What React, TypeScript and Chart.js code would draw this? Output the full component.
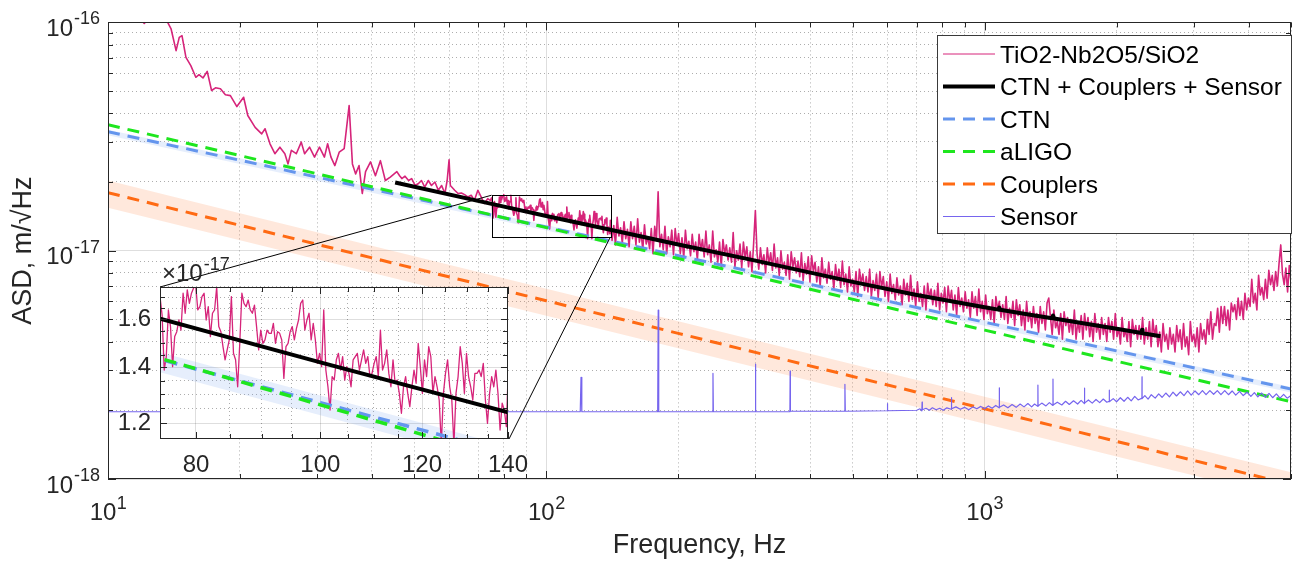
import React, { useEffect, useRef } from 'react';
import { Chart, registerables } from 'chart.js';

Chart.register(...registerables);

const FONT = '"Liberation Sans", Arial, Helvetica, sans-serif';
const INK = '#262626';
const GRID_MAJOR = 'rgba(0,0,0,0.13)';
const GRID_MINOR = 'rgba(0,0,0,0.32)';

// ---------------- data: frequency in Hz, amplitude in units of 1e-17 m/√Hz ----------------
// measured spectrum, low-frequency part (explicit frequency/value pairs)
const MEAS_LOW: [number, number][] = [
  [10, 16.0], [11, 13.5], [11.8, 10.4], [12.1, 9.9], [12.4, 10.5], [13.0, 11.6], [13.68, 10.0],
  [13.93, 9.36], [14.3, 7.52], [14.54, 8.6], [14.75, 8.75], [15.06, 7.03], [15.45, 6.47],
  [15.86, 5.75], [16.13, 5.9], [16.47, 5.71], [16.84, 6.1], [17.23, 5.03], [17.59, 5.17],
  [18.05, 5.12], [18.53, 4.82], [19.02, 4.78], [19.68, 4.28], [20.39, 4.7], [20.84, 3.91],
  [21.66, 3.47], [22.42, 3.25], [22.82, 3.42], [23.42, 2.94], [24.03, 2.66], [24.67, 2.84],
  [25.32, 2.66], [25.75, 2.4], [26.2, 2.75], [26.89, 2.66], [27.6, 2.99], [28.09, 2.66],
  [28.83, 2.84], [29.59, 2.57], [30.37, 2.84], [31.17, 2.57], [31.7, 2.94], [32.26, 2.57],
  [32.93, 2.36], [33.69, 2.7], [34.58, 2.8], [35.49, 4.32], [36.11, 2.4], [36.73, 2.17],
  [37.39, 2.36], [38.03, 1.78], [38.69, 2.22], [39.71, 2.45], [40.75, 2.13], [41.83, 2.48],
  [42.93, 2.03], [44.06, 2.1], [45.6, 2.22], [46.27, 2.13], [46.82, 2.07], [47.6, 2.12],
  [48.5, 2.03], [49.3, 2.07], [50.2, 1.93], [51.1, 1.97], [51.9, 2.03], [52.8, 1.9],
  [53.8, 2.03], [54.7, 1.93], [55.7, 2.0], [56.7, 1.84], [57.7, 1.93], [58.7, 1.78],
  [59.4, 2.03], [60.0, 2.5], [60.4, 1.93], [61.8, 1.84], [62.9, 1.78], [64.0, 1.79],
  [65.1, 1.76], [66.2, 1.72], [67.4, 1.75], [68.5, 1.66], [69.8, 1.84], [71.0, 1.72],
  [72.2, 1.61], [73.5, 1.69], [74.5, 1.66],
];

// measured spectrum 75–139.6 Hz, values on a log-spaced frequency grid
const MEAS_MID_BAND = [75, 139.6];
const MEAS_MID = [
  1.704, 1.619, 1.39, 1.443, 1.642, 1.568, 1.403, 1.525, 1.546, 1.597,
  1.553, 1.72, 1.627, 1.736, 1.672, 1.72, 1.745, 1.76, 1.642, 1.657,
  1.704, 1.72, 1.597, 1.657, 1.525, 1.627, 1.642, 1.75, 1.568, 1.546,
  1.483, 1.43, 1.47, 1.511, 1.704, 1.456, 1.43, 1.327, 1.497, 1.72,
  1.672, 1.657, 1.688, 1.642, 1.627, 1.664, 1.568, 1.47, 1.553, 1.497,
  1.511, 1.553, 1.539, 1.539, 1.582, 1.497, 1.546, 1.539, 1.511, 1.358,
  1.483, 1.497, 1.546, 1.568, 1.511, 1.56, 1.597, 1.672, 1.688, 1.553,
  1.597, 1.627, 1.511, 1.582, 1.511, 1.416, 1.456, 1.403, 1.642, 1.39,
  1.327, 1.244, 1.365, 1.352, 1.43, 1.456, 1.39, 1.443, 1.352, 1.403,
  1.377, 1.327, 1.43, 1.443, 1.456, 1.39, 1.43, 1.47, 1.416, 1.443,
  1.365, 1.377, 1.416, 1.443, 1.365, 1.553, 1.39, 1.416, 1.47, 1.377,
  1.327, 1.43, 1.34, 1.352, 1.303, 1.233, 1.327, 1.365, 1.303, 1.256,
  1.327, 1.39, 1.34, 1.497, 1.403, 1.303, 1.43, 1.365, 1.483, 1.443,
  1.303, 1.365, 1.327, 1.279, 1.13, 1.303, 1.377, 1.43, 1.327, 1.279,
  1.13, 1.303, 1.365, 1.483, 1.416, 1.303, 1.456, 1.365, 1.327, 1.279,
  1.377, 1.377, 1.39, 1.365, 1.416, 1.279, 1.199, 1.303, 1.365, 1.327,
  1.39, 1.303, 1.177, 1.268, 1.244, 1.188,
];

// measured spectrum 140–5000 Hz, values on a log-spaced frequency grid
const MEAS_HIGH_BAND = [140, 5000];
const MEAS_HIGH = [
  1.36, 1.11, 1.29, 1.06, 1.4, 1.16, 1.26, 1.08, 1.34, 1.13,
  1.24, 1.04, 1.34, 1.13, 1.28, 1.06, 1.38, 1.09, 1.2, 1.01,
  1.3, 1.07, 1.15, 1.02, 1.25, 0.97, 1.28, 1.11, 1.81, 1.04,
  1.18, 1.01, 1.28, 0.97, 1.15, 1.04, 1.23, 0.96, 1.25, 1.06,
  1.19, 0.97, 1.14, 0.93, 1.23, 1.02, 1.1, 0.95, 1.18, 0.99,
  1.09, 0.91, 1.18, 1.0, 1.12, 0.94, 1.22, 0.96, 1.06, 0.89,
  1.22, 0.94, 1.01, 0.89, 1.09, 0.85, 1.12, 0.97, 1.06, 0.91,
  1.03, 0.89, 1.2, 0.85, 1.0, 0.91, 1.07, 0.84, 1.09, 0.93,
  1.04, 0.85, 0.99, 0.81, 1.08, 1.5, 0.97, 0.83, 1.03, 0.87,
  0.96, 0.8, 1.03, 0.87, 0.98, 0.82, 1.07, 0.84, 0.93, 0.78,
  1.0, 0.83, 0.89, 0.78, 0.96, 0.75, 0.99, 0.85, 0.93, 0.8,
  0.9, 0.77, 0.98, 0.74, 0.88, 0.79, 0.94, 0.73, 0.95, 0.81,
  0.89, 0.73, 0.85, 0.7, 0.93, 0.76, 0.83, 0.72, 0.89, 0.75,
  0.81, 0.68, 0.87, 0.74, 0.83, 0.69, 0.9, 0.71, 0.79, 0.66,
  0.85, 0.7, 0.75, 0.66, 0.81, 0.63, 0.83, 0.72, 0.79, 0.67,
  0.77, 0.66, 0.83, 0.63, 0.74, 0.67, 0.79, 0.62, 0.81, 0.69,
  0.77, 0.63, 0.73, 0.6, 0.79, 0.65, 0.71, 0.61, 0.76, 0.64,
  0.7, 0.58, 0.75, 0.64, 0.72, 0.6, 0.78, 0.61, 0.68, 0.57,
  0.73, 0.6, 0.65, 0.57, 0.7, 0.55, 0.72, 0.62, 0.68, 0.58,
  0.67, 0.57, 0.72, 0.55, 0.65, 0.59, 0.69, 0.54, 0.7, 0.6,
  0.67, 0.55, 0.64, 0.52, 0.69, 0.57, 0.62, 0.54, 0.66, 0.56,
  0.61, 0.51, 0.66, 0.56, 0.63, 0.52, 0.68, 0.54, 0.6, 0.5,
  0.64, 0.53, 0.57, 0.5, 0.61, 0.48, 0.63, 0.55, 0.6, 0.51,
  0.58, 0.5, 0.63, 0.48, 0.56, 0.51, 0.6, 0.47, 0.61, 0.52,
  0.58, 0.47, 0.55, 0.45, 0.6, 0.49, 0.54, 0.46, 0.57, 0.48,
  0.53, 0.44, 0.57, 0.48, 0.54, 0.45, 0.59, 0.62, 0.51, 0.43,
  0.55, 0.46, 0.49, 0.43, 0.53, 0.41, 0.54, 0.47, 0.51, 0.44,
  0.5, 0.43, 0.55, 0.41, 0.49, 0.44, 0.52, 0.41, 0.53, 0.45,
  0.51, 0.42, 0.49, 0.4, 0.53, 0.44, 0.48, 0.41, 0.51, 0.43,
  0.48, 0.4, 0.51, 0.44, 0.49, 0.41, 0.53, 0.42, 0.46, 0.39,
  0.51, 0.42, 0.45, 0.4, 0.49, 0.38, 0.5, 0.43, 0.47, 0.41,
  0.47, 0.41, 0.51, 0.39, 0.46, 0.41, 0.49, 0.38, 0.5, 0.42,
  0.47, 0.38, 0.44, 0.36, 0.48, 0.4, 0.43, 0.37, 0.46, 0.39,
  0.43, 0.36, 0.47, 0.4, 0.45, 0.37, 0.48, 0.38, 0.42, 0.35,
  0.49, 0.4, 0.43, 0.38, 0.46, 0.36, 0.48, 0.41, 0.45, 0.39,
  0.5, 0.43, 0.54, 0.41, 0.48, 0.47, 0.56, 0.44, 0.57, 0.48,
  0.57, 0.47, 0.55, 0.45, 0.59, 0.54, 0.58, 0.5, 0.62, 0.52,
  0.6, 0.5, 0.65, 0.55, 0.62, 0.57, 0.75, 0.59, 0.65, 0.55,
  0.78, 0.64, 0.69, 0.61, 0.75, 0.62, 0.82, 0.71, 0.78, 0.67,
  0.81, 0.7, 0.88, 1.06, 0.79, 0.71, 0.84, 0.66, 0.86, 0.73,
];

// model curves
const MODEL_F = [10, 20, 50, 100, 200, 500, 1000, 2000, 5000];
const CTN = [3.32, 2.49, 1.695, 1.27, 0.951, 0.649, 0.486, 0.364, 0.248];
const CTN_UPPER = [3.39, 2.54, 1.729, 1.295, 0.97, 0.662, 0.496, 0.371, 0.253];
const CTN_LOWER = [3.2, 2.4, 1.636, 1.226, 0.918, 0.626, 0.469, 0.351, 0.239];
const ALIGO = [3.56, 2.61, 1.723, 1.262, 0.924, 0.613, 0.449, 0.328, 0.218];
const COUPLERS = [1.795, 1.292, 0.837, 0.6035, 0.4345, 0.2814, 0.2029, 0.1461, 0.0946];
const COUPLERS_UPPER = [2.028, 1.46, 0.946, 0.682, 0.491, 0.318, 0.229, 0.165, 0.107];
const COUPLERS_LOWER = [1.544, 1.111, 0.72, 0.519, 0.374, 0.242, 0.1745, 0.1256, 0.0814];

const TOTAL: [number, number][] = [
  [45.2, 1.99], [75, 1.603], [100, 1.42], [140, 1.236], [200, 1.065], [300, 0.905],
  [500, 0.73], [700, 0.64], [1000, 0.565], [1075, 0.552], [1080, 0.563], [1085, 0.551],
  [1300, 0.52], [1425, 0.506], [1432, 0.52], [1440, 0.505], [2000, 0.455], [2280, 0.436],
  [2286, 0.45], [2292, 0.435], [2520, 0.422],
];

const SENSOR: [number, number][] = [
  [10, 0.197], [60, 0.197], [119.5, 0.197], [120, 0.279], [120.5, 0.197], [179.5, 0.197],
  [180, 0.549], [180.5, 0.197], [239.5, 0.197], [240, 0.29], [240.5, 0.197], [299.5, 0.197],
  [300, 0.319], [300.5, 0.197], [359.5, 0.197], [360, 0.297], [360.5, 0.198], [479, 0.198],
  [480, 0.26], [481, 0.198], [599, 0.199], [600, 0.214], [601, 0.199], [700, 0.2],
  [712, 0.203], [719, 0.199], [720, 0.217], [721, 0.201], [735, 0.204], [748, 0.2],
  [760, 0.205], [775, 0.201], [790, 0.204], [805, 0.2], [820, 0.205], [839, 0.202],
  [840, 0.227], [841, 0.203], [860, 0.207], [880, 0.202], [900, 0.206], [920, 0.201],
  [940, 0.207], [960, 0.203], [980, 0.208], [1000, 0.203], [1020, 0.209], [1040, 0.204],
  [1060, 0.21], [1079, 0.205], [1080, 0.251], [1081, 0.206], [1105, 0.211], [1130, 0.205],
  [1155, 0.212], [1180, 0.206], [1205, 0.213], [1230, 0.207], [1255, 0.214], [1280, 0.207],
  [1300, 0.213], [1322, 0.208], [1323, 0.258], [1324, 0.209], [1350, 0.215], [1380, 0.209],
  [1405, 0.216], [1431, 0.21], [1432, 0.274], [1433, 0.211], [1465, 0.217], [1500, 0.211],
  [1530, 0.219], [1560, 0.212], [1595, 0.22], [1630, 0.213], [1660, 0.221], [1689, 0.214],
  [1690, 0.25], [1691, 0.215], [1725, 0.222], [1760, 0.215], [1795, 0.223], [1830, 0.216],
  [1865, 0.224], [1900, 0.217], [1924, 0.219], [1925, 0.245], [1926, 0.218], [1965, 0.225],
  [2000, 0.218], [2040, 0.227], [2080, 0.219], [2120, 0.228], [2160, 0.22], [2200, 0.23],
  [2240, 0.222], [2285, 0.226], [2286, 0.28], [2287, 0.225], [2320, 0.232], [2360, 0.224],
  [2400, 0.234], [2450, 0.226], [2495, 0.236], [2540, 0.228], [2590, 0.238], [2640, 0.229],
  [2690, 0.24], [2740, 0.231], [2795, 0.241], [2850, 0.232], [2905, 0.243], [2960, 0.233],
  [3020, 0.243], [3080, 0.234], [3140, 0.244], [3200, 0.234], [3265, 0.244], [3330, 0.235],
  [3395, 0.244], [3460, 0.234], [3530, 0.244], [3600, 0.234], [3670, 0.243], [3740, 0.233],
  [3815, 0.242], [3890, 0.232], [3970, 0.24], [4050, 0.23], [4125, 0.239], [4200, 0.229],
  [4285, 0.238], [4370, 0.228], [4455, 0.237], [4540, 0.227], [4630, 0.236], [4720, 0.226],
  [4810, 0.235], [4900, 0.226], [5000, 0.232],
];

// axes / ticks
const X_TICKS = [10, 20, 30, 40, 50, 60, 70, 80, 90, 100, 200, 300, 400, 500, 600, 700, 800, 900, 1000, 2000, 3000, 4000, 5000];
const X_TICK_EXP: [number, string][] = [[10, '1'], [100, '2'], [1000, '3']];
const Y_TICKS = [0.1, 0.2, 0.3, 0.4, 0.5, 0.6, 0.7, 0.8, 0.9, 1, 2, 3, 4, 5, 6, 7, 8, 9, 10];
const Y_TICK_EXP: [number, string][] = [[0.1, '-18'], [1, '-17'], [10, '-16']];
const TICK_BASE = '10';
const INSET_X_TICKS = [80, 85, 90, 95, 100, 105, 110, 115, 120, 125, 130, 135, 140];
const INSET_X_LABELS = [80, 100, 120, 140];
const INSET_Y_TICKS = [1.2, 1.25, 1.3, 1.35, 1.4, 1.45, 1.5, 1.55, 1.6, 1.65, 1.7];
const INSET_Y_LABELS = [1.2, 1.4, 1.6];
const ZOOM_F = [75, 140];
const ZOOM_A = [1.148, 1.75];
const INSET_SCALE_TEXT = ['×10', '-17'];

// ---------------- layout ----------------
const W = 1309;
const H = 562;
const MAIN_AREA = { left: 108, top: 22, right: 1305, bottom: 479 };
const INSET_BOX = { left: 100, top: 240, width: 440, height: 245 };
const INSET_AREA = { left: 160, top: 287, right: 509, bottom: 439 };
const LEGEND_BOX = { left: 937, top: 35, right: 1291, bottom: 233 };

// ---------------- helpers ----------------
const xy = (xs: number[], ys: number[]) => xs.map((x, i) => ({ x, y: ys[i] }));
const fromPairs = (p: [number, number][]) => p.map(([x, y]) => ({ x, y }));
function logGrid(range: number[], n: number) {
  const [a, b] = range;
  return Array.from({ length: n }, (_, i) => a * Math.pow(b / a, i / (n - 1)));
}
const MEASURED = [
  ...fromPairs(MEAS_LOW),
  ...xy(logGrid(MEAS_MID_BAND, MEAS_MID.length), MEAS_MID),
  ...xy(logGrid(MEAS_HIGH_BAND, MEAS_HIGH.length), MEAS_HIGH),
];

const DASH = [12, 8];
const STYLE: Record<string, any> = {
  measured: { label: 'TiO2-Nb2O5/SiO2', borderColor: '#d6247a', borderWidth: 1.6 },
  total: { label: 'CTN + Couplers + Sensor', borderColor: '#000000', borderWidth: 4 },
  ctn: { label: 'CTN', borderColor: '#6495ed', borderWidth: 3, borderDash: DASH },
  aligo: { label: 'aLIGO', borderColor: '#1ee61e', borderWidth: 3, borderDash: DASH },
  couplers: { label: 'Couplers', borderColor: '#ff6a13', borderWidth: 3, borderDash: DASH },
  sensor: { label: 'Sensor', borderColor: '#7665ee', borderWidth: 1.2 },
};

function line(data: any[], style: any, order: number, extra: any = {}) {
  return {
    data, ...style, order, pointRadius: 0, pointHoverRadius: 0, tension: 0, fill: false,
    clip: 0, borderCapStyle: 'butt', borderJoinStyle: 'round', ...extra,
  };
}
function bandPair(upper: any[], lower: any[], color: string) {
  return [
    { data: upper, borderWidth: 0, borderColor: 'rgba(0,0,0,0)', backgroundColor: color, fill: '+1', pointRadius: 0, order: 20, clip: 0 },
    { data: lower, borderWidth: 0, borderColor: 'rgba(0,0,0,0)', fill: false, pointRadius: 0, order: 20, clip: 0 },
  ];
}

function framePlugin(xTicks: number[], yTicks: number[], xMajor: (v: number) => boolean, yMajor: (v: number) => boolean, majLen: number, minLen: number) {
  return {
    id: 'frame',
    afterDatasetsDraw(chart: any) {
      const { ctx, chartArea, scales } = chart;
      const { left, right, top, bottom } = chartArea;
      ctx.save();
      ctx.strokeStyle = INK;
      ctx.lineWidth = 1;
      ctx.setLineDash([]);
      ctx.beginPath();
      for (const v of xTicks) {
        const p = Math.round(scales.x.getPixelForValue(v)) + 0.5;
        const l = xMajor(v) ? majLen : minLen;
        ctx.moveTo(p, bottom); ctx.lineTo(p, bottom - l);
        ctx.moveTo(p, top); ctx.lineTo(p, top + l);
      }
      for (const v of yTicks) {
        const p = Math.round(scales.y.getPixelForValue(v)) + 0.5;
        const l = yMajor(v) ? majLen : minLen;
        ctx.moveTo(left, p); ctx.lineTo(left + l, p);
        ctx.moveTo(right, p); ctx.lineTo(right - l, p);
      }
      ctx.stroke();
      ctx.strokeRect(Math.round(left) + 0.5, Math.round(top) + 0.5, Math.round(right - left) - 1, Math.round(bottom - top) - 1);
      ctx.restore();
    },
  };
}

const xExpMap = new Map(X_TICK_EXP);
const yExpMap = new Map(Y_TICK_EXP);
const isMajX = (v: number) => xExpMap.has(v);
const isMajY = (v: number) => yExpMap.has(v);
const isInsetMajX = (v: number) => INSET_X_LABELS.includes(v);
const isInsetMajY = (v: number) => INSET_Y_LABELS.includes(v);

function gridOpts(isMajor: (v: number) => boolean) {
  return {
    grid: {
      drawTicks: false,
      lineWidth: 1,
      color: (c: any) => (c.tick && isMajor(c.tick.value) ? GRID_MAJOR : GRID_MINOR),
    },
    border: {
      display: false,
      dash: (c: any) => (c.tick && isMajor(c.tick.value) ? [] : [1, 3]),
    },
  };
}

// power-of-ten tick labels, drawn as "10" with a raised exponent
const powerLabelPlugin = {
  id: 'powerLabels',
  afterDraw(chart: any) {
    const { ctx, scales, chartArea } = chart;
    const base = `24px ${FONT}`;
    const sup = `18px ${FONT}`;
    ctx.save();
    ctx.fillStyle = INK;
    ctx.textBaseline = 'alphabetic';
    ctx.textAlign = 'left';
    for (const [v, e] of X_TICK_EXP) {
      const px = scales.x.getPixelForValue(v);
      ctx.font = base;
      const w1 = ctx.measureText(TICK_BASE).width;
      ctx.font = sup;
      const w2 = ctx.measureText(e).width;
      const x0 = px - (w1 + w2) / 2;
      ctx.font = base;
      ctx.fillText(TICK_BASE, x0, chartArea.bottom + 41);
      ctx.font = sup;
      ctx.fillText(e, x0 + w1 + 0.5, chartArea.bottom + 30);
    }
    for (const [v, e] of Y_TICK_EXP) {
      const py = scales.y.getPixelForValue(v);
      ctx.font = sup;
      const w2 = ctx.measureText(e).width;
      ctx.font = base;
      const w1 = ctx.measureText(TICK_BASE).width;
      const xr = chartArea.left - 8;
      ctx.fillText(TICK_BASE, xr - w2 - 1 - w1, py + 13.5);
      ctx.font = sup;
      ctx.fillText(e, xr - w2, py + 2);
    }
    ctx.restore();
  },
};

const zoomPlugin = {
  id: 'zoomBox',
  afterDatasetsDraw(chart: any) {
    const { ctx, scales } = chart;
    const x0 = scales.x.getPixelForValue(ZOOM_F[0]);
    const x1 = scales.x.getPixelForValue(ZOOM_F[1]);
    const y0 = scales.y.getPixelForValue(ZOOM_A[1]);
    const y1 = scales.y.getPixelForValue(ZOOM_A[0]);
    ctx.save();
    ctx.strokeStyle = '#000';
    ctx.lineWidth = 1;
    ctx.setLineDash([]);
    ctx.strokeRect(Math.round(x0) + 0.5, Math.round(y0) + 0.5, Math.round(x1 - x0), Math.round(y1 - y0));
    ctx.beginPath();
    ctx.moveTo(INSET_AREA.left, INSET_AREA.top);
    ctx.lineTo(x0, y0);
    ctx.moveTo(INSET_AREA.right, INSET_AREA.bottom);
    ctx.lineTo(x1, y1);
    ctx.stroke();
    ctx.restore();
  },
};

const legendPlugin = {
  id: 'boxLegend',
  afterDraw(chart: any) {
    const { ctx } = chart;
    const items = chart.data.datasets.filter((d: any) => d.label);
    const b = LEGEND_BOX;
    ctx.save();
    ctx.fillStyle = '#ffffff';
    ctx.fillRect(b.left, b.top, b.right - b.left, b.bottom - b.top);
    ctx.strokeStyle = '#3a3a3a';
    ctx.lineWidth = 1;
    ctx.setLineDash([]);
    ctx.strokeRect(b.left + 0.5, b.top + 0.5, b.right - b.left, b.bottom - b.top);
    items.forEach((d: any, i: number) => {
      const yLine = b.top + 19 + i * 32.5;
      ctx.beginPath();
      ctx.setLineDash(d.borderDash || []);
      ctx.strokeStyle = d.borderColor;
      ctx.lineWidth = Math.max(1, d.borderWidth === 1.6 ? 1 : d.borderWidth);
      ctx.lineCap = 'butt';
      ctx.moveTo(b.left + 6, yLine);
      ctx.lineTo(b.left + 58, yLine);
      ctx.stroke();
      ctx.setLineDash([]);
      ctx.fillStyle = '#000000';
      ctx.font = `24.5px ${FONT}`;
      ctx.textAlign = 'left';
      ctx.textBaseline = 'middle';
      ctx.fillText(d.label, b.left + 63, yLine + 2);
    });
    ctx.restore();
  },
};

const whiteAreaPlugin = {
  id: 'whiteArea',
  beforeDraw(chart: any) {
    const { ctx, chartArea } = chart;
    ctx.save();
    ctx.fillStyle = '#ffffff';
    ctx.fillRect(chartArea.left, chartArea.top, chartArea.right - chartArea.left, chartArea.bottom - chartArea.top);
    ctx.restore();
  },
};

const insetScalePlugin = {
  id: 'insetScale',
  afterDraw(chart: any) {
    const { ctx, chartArea } = chart;
    ctx.save();
    ctx.fillStyle = INK;
    ctx.textAlign = 'left';
    ctx.textBaseline = 'alphabetic';
    ctx.font = `24px ${FONT}`;
    const x = chartArea.left + 2;
    const y = chartArea.top - 6;
    ctx.fillText(INSET_SCALE_TEXT[0], x, y);
    const w = ctx.measureText(INSET_SCALE_TEXT[0]).width;
    ctx.font = `18px ${FONT}`;
    ctx.fillText(INSET_SCALE_TEXT[1], x + w + 1, y - 11);
    ctx.restore();
  },
};

const tickFont = { family: FONT, size: 24 };

function mainConfig(): any {
  return {
    type: 'line',
    data: {
      datasets: [
        ...bandPair(xy(MODEL_F, CTN_UPPER), xy(MODEL_F, CTN_LOWER), 'rgba(100,149,237,0.16)'),
        ...bandPair(xy(MODEL_F, COUPLERS_UPPER), xy(MODEL_F, COUPLERS_LOWER), 'rgba(255,130,60,0.18)'),
        line(MEASURED, STYLE.measured, 8),
        line(fromPairs(TOTAL), STYLE.total, 7),
        line(xy(MODEL_F, CTN), STYLE.ctn, 6),
        line(xy(MODEL_F, ALIGO), STYLE.aligo, 5),
        line(xy(MODEL_F, COUPLERS), STYLE.couplers, 4),
        line(fromPairs(SENSOR), STYLE.sensor, 3),
      ],
    },
    options: {
      responsive: false,
      animation: false,
      devicePixelRatio: 1,
      events: [],
      layout: { padding: { left: 0, top: MAIN_AREA.top, right: W - MAIN_AREA.right, bottom: 0 } },
      plugins: { legend: { display: false }, tooltip: { enabled: false } },
      scales: {
        x: {
          type: 'logarithmic',
          position: 'bottom',
          min: 10,
          max: 5000,
          afterBuildTicks: (s: any) => { s.ticks = X_TICKS.map((value) => ({ value })); },
          afterFit: (s: any) => { s.height = H - MAIN_AREA.bottom; },
          ticks: { autoSkip: false, maxRotation: 0, minRotation: 0, padding: 18, color: INK, font: tickFont, callback: () => '' },
          ...gridOpts(isMajX),
          title: { display: true, text: 'Frequency, Hz', color: INK, font: { family: FONT, size: 27 }, padding: { top: 0, bottom: 0 } },
        },
        y: {
          type: 'logarithmic',
          position: 'left',
          min: 0.1,
          max: 10,
          afterBuildTicks: (s: any) => { s.ticks = Y_TICKS.map((value) => ({ value })); },
          afterFit: (s: any) => { s.width = MAIN_AREA.left; },
          ticks: { autoSkip: false, padding: 8, color: INK, font: tickFont, callback: () => '' },
          ...gridOpts(isMajY),
          title: { display: true, text: 'ASD, m/√Hz', color: INK, font: { family: FONT, size: 27 }, padding: { top: 7, bottom: 0 } },
        },
      },
    },
    plugins: [zoomPlugin, framePlugin(X_TICKS, Y_TICKS, isMajX, isMajY, 8, 5), powerLabelPlugin, legendPlugin],
  };
}

function insetConfig(): any {
  return {
    type: 'line',
    data: {
      datasets: [
        ...bandPair(xy(MODEL_F, CTN_UPPER), xy(MODEL_F, CTN_LOWER), 'rgba(100,149,237,0.16)'),
        line(MEASURED, { ...STYLE.measured, borderWidth: 1.3 }, 8),
        line(fromPairs(TOTAL), STYLE.total, 7),
        line(xy(MODEL_F, CTN), { ...STYLE.ctn, borderWidth: 3.5 }, 6),
        line(xy(MODEL_F, ALIGO), { ...STYLE.aligo, borderWidth: 3.5 }, 5),
      ],
    },
    options: {
      responsive: false,
      animation: false,
      devicePixelRatio: 1,
      events: [],
      layout: {
        padding: {
          left: 0,
          top: INSET_AREA.top - INSET_BOX.top,
          right: INSET_BOX.left + INSET_BOX.width - INSET_AREA.right,
          bottom: 0,
        },
      },
      plugins: { legend: { display: false }, tooltip: { enabled: false } },
      scales: {
        x: {
          type: 'logarithmic',
          position: 'bottom',
          min: ZOOM_F[0],
          max: ZOOM_F[1],
          afterBuildTicks: (s: any) => { s.ticks = INSET_X_TICKS.map((value) => ({ value })); },
          afterFit: (s: any) => { s.height = INSET_BOX.top + INSET_BOX.height - INSET_AREA.bottom; },
          ticks: {
            autoSkip: false, maxRotation: 0, minRotation: 0, padding: 12, color: INK, font: tickFont,
            callback: (v: any) => (isInsetMajX(Number(v)) ? String(v) : ''),
          },
          ...gridOpts(isInsetMajX),
        },
        y: {
          type: 'logarithmic',
          position: 'left',
          min: ZOOM_A[0],
          max: ZOOM_A[1],
          afterBuildTicks: (s: any) => { s.ticks = INSET_Y_TICKS.map((value) => ({ value })); },
          afterFit: (s: any) => { s.width = INSET_AREA.left - INSET_BOX.left; },
          ticks: {
            autoSkip: false, padding: 9, color: INK, font: tickFont,
            callback: (v: any) => (isInsetMajY(Number(v)) ? Number(v).toFixed(1) : ''),
          },
          ...gridOpts(isInsetMajY),
        },
      },
    },
    plugins: [whiteAreaPlugin, framePlugin(INSET_X_TICKS, INSET_Y_TICKS, isInsetMajX, isInsetMajY, 7, 5), insetScalePlugin],
  };
}

export default function App() {
  const mainRef = useRef<HTMLCanvasElement>(null);
  const insetRef = useRef<HTMLCanvasElement>(null);
  useEffect(() => {
    const main = new Chart(mainRef.current as HTMLCanvasElement, mainConfig());
    const inset = new Chart(insetRef.current as HTMLCanvasElement, insetConfig());
    return () => {
      main.destroy();
      inset.destroy();
    };
  }, []);
  return (
    <div style={{ position: 'absolute', left: 0, top: 0, width: W, height: H, background: '#ffffff', overflow: 'hidden' }}>
      <canvas ref={mainRef} width={W} height={H} style={{ position: 'absolute', left: 0, top: 0, width: W, height: H }} />
      <canvas
        ref={insetRef}
        width={INSET_BOX.width}
        height={INSET_BOX.height}
        style={{ position: 'absolute', left: INSET_BOX.left, top: INSET_BOX.top, width: INSET_BOX.width, height: INSET_BOX.height }}
      />
    </div>
  );
}
